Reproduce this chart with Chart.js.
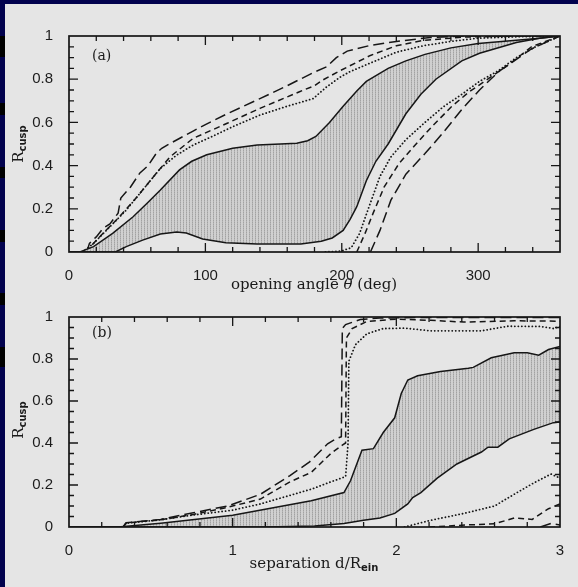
<!DOCTYPE html>
<html>
<head>
<meta charset="utf-8">
<script src="https://cdn.jsdelivr.net/npm/chart.js@4.4.1/dist/chart.umd.min.js"></script>
<style>
  html, body { margin: 0; padding: 0; }
  body {
    width: 578px; height: 587px; overflow: hidden; position: relative;
    background: linear-gradient(to bottom, #02024e 0 36px, #000 36px 57px, #02024e 57px 103px, #000 103px 115px,
      #02024e 115px 167px, #000 167px 178px, #02024e 178px 230px, #000 230px 242px, #02024e 242px 293px,
      #000 293px 305px, #02024e 305px 347px, #000 347px 367px, #02024e 367px);
  }
  #panel { position: absolute; left: 5px; top: 4px; right: 0; bottom: 0; background: #e5e5e5; }
  canvas { position: absolute; left: 0; }
  .lbl { position: absolute; font-family: "DejaVu Serif", serif; font-size: 15px; color: #1a1a1a;
         white-space: nowrap; transform: translate(-50%, -50%); }
  .ytitle { transform: translate(-50%, -50%) rotate(-90deg); }
  .lbl sub { font-size: 10px; font-family: "DejaVu Sans", sans-serif; font-weight: bold; vertical-align: -3px; }
  .tag { position: absolute; font-family: "DejaVu Serif", serif; font-size: 14px; color: #1a1a1a; }
</style>
</head>
<body>
<div id="panel"></div>
<canvas id="top" width="578" height="300" style="top:0"></canvas>
<canvas id="bot" width="578" height="287" style="top:300px"></canvas>
<div class="lbl" style="left:314px; top:284px">opening angle <i>θ</i> (deg)</div>
<div class="lbl" style="left:314px; top:563px">separation d/R<sub>ein</sub></div>
<div class="lbl ytitle" style="left:18px; top:144px">R<sub>cusp</sub></div>
<div class="lbl ytitle" style="left:18px; top:420px">R<sub>cusp</sub></div>
<div class="tag" style="left:92px; top:47px">(a)</div>
<div class="tag" style="left:92px; top:324px">(b)</div>
<script>
// panel (a): R_cusp vs opening angle theta (deg), pairs [theta, R]
const topSolidHi = [[0,0],[8,0],[18,0.025],[32,0.086],[47,0.163],[58,0.23],[67,0.287],[81,0.38],[90,0.42],[101,0.45],[120,0.48],[138,0.495],[155,0.5],[167,0.503],[175,0.515],[181,0.535],[191,0.6],[201,0.675],[211,0.745],[218,0.79],[234,0.85],[247,0.885],[261,0.915],[280,0.945],[300,0.965],[328,0.98],[345,0.99],[360,1]];
const topSolidLo = [[0,0],[34,0],[42,0.025],[54,0.055],[67,0.083],[79,0.092],[86,0.088],[98,0.06],[115,0.043],[138,0.037],[170,0.037],[185,0.05],[193,0.065],[201,0.1],[206,0.15],[211,0.21],[218,0.33],[225,0.42],[234,0.5],[247,0.64],[258,0.73],[269,0.8],[288,0.885],[301,0.92],[328,0.97],[345,0.99],[360,1]];
const topDotHi = [[10,0],[18,0.04],[30,0.117],[42,0.194],[54,0.287],[67,0.387],[79,0.449],[91,0.495],[105,0.535],[120,0.58],[140,0.634],[160,0.675],[179,0.71],[189,0.765],[199,0.81],[206,0.835],[221,0.875],[240,0.925],[260,0.955],[280,0.975],[300,0.99],[330,0.997],[360,1]];
const topDashHi = [[12,0],[25,0.087],[37,0.163],[50,0.256],[62,0.349],[74,0.44],[91,0.526],[116,0.596],[140,0.665],[169,0.742],[180,0.77],[186,0.796],[199,0.84],[221,0.91],[240,0.955],[260,0.98],[290,0.995],[330,1],[360,1]];
const topLongHi = [[13,0],[15,0.04],[20,0.07],[25,0.11],[30,0.13],[36,0.18],[38,0.25],[45,0.3],[52,0.366],[58,0.4],[64,0.457],[68,0.48],[72,0.495],[91,0.56],[100,0.59],[116,0.64],[140,0.71],[160,0.77],[179,0.83],[189,0.858],[196,0.9],[204,0.93],[220,0.955],[240,0.975],[265,0.993],[290,1],[360,1]];
const topDotLo = [[188,0],[200,0.005],[207,0.02],[213,0.085],[220,0.21],[228,0.35],[236,0.44],[247,0.52],[261,0.6],[274,0.67],[288,0.73],[301,0.79],[315,0.84],[328,0.9],[342,0.95],[360,1]];
const topDashLo = [[211,0],[217,0.085],[223,0.18],[231,0.3],[242,0.41],[253,0.49],[266,0.58],[280,0.67],[293,0.74],[307,0.8],[323,0.87],[339,0.95],[360,1]];
const topLongLo = [[221,0],[228,0.1],[236,0.24],[247,0.36],[261,0.456],[274,0.55],[288,0.66],[301,0.75],[315,0.835],[323,0.87],[339,0.94],[360,1]];

// panel (b): R_cusp vs separation d/R_ein, pairs [d, R]
const botSolidHi = [[0,0],[0.3,0],[0.56,0.018],[1.0,0.056],[1.48,0.125],[1.68,0.164],[1.72,0.22],[1.79,0.366],[1.86,0.373],[1.92,0.45],[1.99,0.52],[2.03,0.636],[2.07,0.70],[2.13,0.72],[2.27,0.74],[2.44,0.756],[2.47,0.76],[2.58,0.806],[2.72,0.83],[2.80,0.83],[2.87,0.818],[2.93,0.845],[3.0,0.86]];
const botSolidLo = [[0,0],[1.2,0],[1.5,0.005],[1.68,0.017],[1.8,0.032],[1.9,0.043],[1.99,0.065],[2.07,0.11],[2.1,0.14],[2.15,0.164],[2.25,0.233],[2.37,0.30],[2.52,0.357],[2.56,0.38],[2.62,0.38],[2.69,0.42],[2.84,0.465],[2.96,0.497],[3.0,0.5]];
const botDotHi = [[0.33,0],[0.35,0.018],[0.56,0.034],[0.76,0.057],[1.0,0.08],[1.17,0.11],[1.48,0.18],[1.6,0.215],[1.69,0.24],[1.705,0.4],[1.71,0.79],[1.75,0.868],[1.82,0.92],[1.92,0.945],[2.05,0.947],[2.21,0.934],[2.52,0.934],[2.68,0.956],[2.88,0.955],[2.96,0.945],[3.0,0.955]];
const botDashHi = [[0.33,0],[0.35,0.02],[0.56,0.034],[0.76,0.06],[0.97,0.094],[1.17,0.133],[1.35,0.215],[1.48,0.26],[1.6,0.35],[1.67,0.39],[1.69,0.4],[1.695,0.9],[1.73,0.945],[1.82,0.979],[2.0,0.99],[2.21,0.984],[2.41,0.976],[2.72,0.982],[3.0,0.98]];
const botLongHi = [[0.33,0],[0.35,0.02],[0.56,0.036],[0.76,0.068],[0.97,0.10],[1.17,0.156],[1.35,0.245],[1.47,0.31],[1.58,0.396],[1.63,0.419],[1.664,0.43],[1.67,0.945],[1.69,0.964],[1.78,0.988],[1.9,0.995],[2.2,0.998],[3.0,0.998]];
const botDotLo = [[2.05,0],[2.21,0.032],[2.41,0.064],[2.6,0.10],[2.72,0.156],[2.84,0.21],[2.945,0.252],[3.0,0.233]];
const botDashLo = [[2.2,0],[2.44,0.01],[2.6,0.015],[2.72,0.043],[2.83,0.036],[2.93,0.087],[3.0,0.11]];
const botLongLo = [[2.88,0],[2.945,0.017],[3.0,0.01]];

const ink = '#161616';
Chart.defaults.font.family = '"Liberation Sans", Arial, sans-serif';
Chart.defaults.color = '#1c1c1c';

// stippled grey for the band between the solid curves
function stipple() {
    const c = document.createElement('canvas');
    c.width = 3; c.height = 2;
    const g = c.getContext('2d');
    g.fillStyle = '#d0d0d0'; g.fillRect(0, 0, 3, 2);
    g.fillStyle = '#a2a2a2'; g.fillRect(0, 0, 1, 1);
    g.fillStyle = '#b6b6b6'; g.fillRect(0, 1, 1, 1);
    return g.createPattern(c, 'repeat');
}

const pts = arr => arr.map(p => ({ x: p[0], y: p[1] }));

function line(arr, dash, extra) {
    return Object.assign({
        data: pts(arr),
        borderColor: ink,
        borderWidth: dash === 'dot' ? 1.8 : 1.5,
        borderDash: dash === 'dot' ? [0.1, 3.4] : dash === 'short' ? [6, 4] : dash === 'long' ? [11, 5] : [],
        borderCapStyle: dash === 'dot' ? 'round' : 'butt',
        pointRadius: 0,
        fill: false
    }, extra || {});
}

// inward ticks on all four sides plus a closed frame
const frameTicks = {
    id: 'frameTicks',
    afterDatasetsDraw(chart, args, o) {
        const { ctx, chartArea: a, scales: { x, y } } = chart;
        ctx.save();
        ctx.strokeStyle = ink;
        ctx.lineWidth = 1.3;
        const run = (scale, minor, major, draw) => {
            const n = Math.round((scale.max - scale.min) / minor);
            for (let i = 1; i < n; i++) {
                const v = scale.min + i * minor;
                const isMajor = Math.abs(v / major - Math.round(v / major)) < 1e-6;
                draw(scale.getPixelForValue(v), isMajor ? 9 : 5);
            }
        };
        ctx.beginPath();
        run(x, o.xMinor, o.xMajor, (p, len) => {
            ctx.moveTo(p, a.bottom); ctx.lineTo(p, a.bottom - len);
            ctx.moveTo(p, a.top); ctx.lineTo(p, a.top + len);
        });
        run(y, o.yMinor, o.yMajor, (p, len) => {
            ctx.moveTo(a.left, p); ctx.lineTo(a.left + len, p);
            ctx.moveTo(a.right, p); ctx.lineTo(a.right - len, p);
        });
        ctx.stroke();
        ctx.lineWidth = 1.7;
        ctx.strokeRect(a.left, a.top, a.right - a.left, a.bottom - a.top);
        ctx.restore();
    }
};

// keep only tick labels that fall on whole multiples of the step
const onStep = step => s => {
    s.ticks = s.ticks.filter(t => Math.abs(t.value / step - Math.round(t.value / step)) < 1e-6);
};
const plain = v => String(+Number(v).toFixed(2));

function makeChart(id, sets, xMax, xMajor, xMinor, padTop, xHeight) {
    return new Chart(document.getElementById(id), {
        type: 'line',
        data: {
            datasets: [
                line(sets[1], 'solid'),
                line(sets[0], 'solid', { fill: { target: 0 }, backgroundColor: stipple() }),
                line(sets[2], 'dot'),
                line(sets[3], 'short'),
                line(sets[4], 'long'),
                line(sets[5], 'dot'),
                line(sets[6], 'short'),
                line(sets[7], 'long')
            ]
        },
        options: {
            responsive: false,
            animation: false,
            layout: { padding: { left: 0, top: padTop, right: 18, bottom: 0 } },
            plugins: {
                legend: { display: false },
                tooltip: { enabled: false },
                frameTicks: { xMajor: xMajor, xMinor: xMinor, yMajor: 0.2, yMinor: 0.05 }
            },
            scales: {
                x: {
                    type: 'linear', min: 0, max: xMax,
                    grid: { display: false }, border: { display: false },
                    ticks: { stepSize: xMajor, padding: 7, font: { size: 15 }, callback: plain },
                    afterBuildTicks: onStep(xMajor),
                    afterFit: s => { s.height = xHeight; }
                },
                y: {
                    min: 0, max: 1,
                    grid: { display: false }, border: { display: false },
                    ticks: { stepSize: 0.2, padding: 8, font: { size: 15 }, callback: plain },
                    afterFit: s => { s.width = 69; }
                }
            }
        },
        plugins: [frameTicks]
    });
}

makeChart('top', [topSolidHi, topSolidLo, topDotHi, topDashHi, topLongHi, topDotLo, topDashLo, topLongLo],
    360, 100, 20, 36, 48);
makeChart('bot', [botSolidHi, botSolidLo, botDotHi, botDashHi, botLongHi, botDotLo, botDashLo, botLongLo],
    3, 1, 0.2, 12, 60);
</script>
</body>
</html>
